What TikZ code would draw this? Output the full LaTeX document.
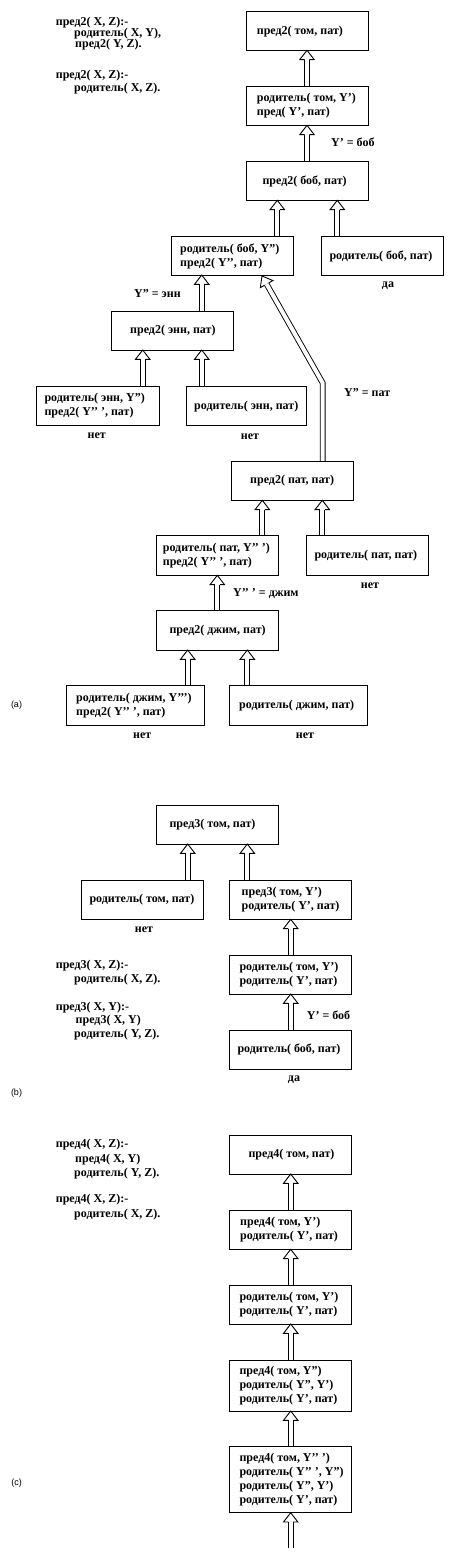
\documentclass[tikz,border=0pt]{standalone}
\usepackage{fontspec}
\setmainfont{Liberation Serif}
\newfontfamily\lblfont{Liberation Sans}
\usetikzlibrary{calc}
\pgfdeclarelayer{arrowlayer}
\pgfsetlayers{arrowlayer,main}
\tikzset{
  box/.style={draw, line width=0.9pt, inner sep=0pt, outer sep=0pt, anchor=north west},
  txt/.style={font=\fontsize{12}{14}\selectfont\bfseries, inner sep=0pt, anchor=west, align=left},
  ctxt/.style={font=\fontsize{12}{14}\selectfont\bfseries, inner sep=0pt},
  tagtxt/.style={font=\lblfont\fontsize{9}{11}\selectfont, inner sep=0pt},
  shaft/.style={line width=0.9pt, double=white, double distance=4pt, line join=miter},
  headline/.style={draw, line width=0.9pt, line join=miter},
}
\newcommand\abox[5]{\node[box, minimum width={(#4-#2)*1pt}, minimum height={(#5-#3)*1pt}] (#1) at (#2,#3) {};}
\newcommand\ahead[2]{%
  \draw[headline] let \p1=(#1), \p2=(#2), \n1={atan2(\y2-\y1,\x2-\x1)} in
    ($(\p2)!9.3pt!(\p1)+({\n1+90}:2.45pt)$) -- ($(\p2)!9.3pt!(\p1)+({\n1+90}:7.2pt)$) -- (\p2)
    -- ($(\p2)!9.3pt!(\p1)+({\n1-90}:7.2pt)$) -- ($(\p2)!9.3pt!(\p1)+({\n1-90}:2.45pt)$);}
\newcommand\harrow[2]{%
  \draw[shaft] let \p1=(#1), \p2=(#2) in (\p1) -- ($(\p2)!9.3pt!(\p1)$);
  \ahead{#1}{#2}}
\begin{document}
\begin{tikzpicture}[x=1pt,y=-1pt]
\useasboundingbox (0,0) rectangle (456,1558);
% ---------- (a) boxes
\abox{A1}{246}{11}{368.7}{50.3}
\abox{A2}{246}{86}{368.7}{125.3}
\abox{A3}{246}{161.3}{368.7}{200.3}
\abox{A4}{171}{236}{293.3}{275}
\abox{A5}{321}{236}{443.3}{275}
\abox{A6}{111}{311}{233.3}{350}
\abox{A7}{36}{386}{159.3}{425.3}
\abox{A8}{186}{386}{306}{425.3}
\abox{A9}{231}{461}{353.3}{500.3}
\abox{A10}{156}{535.3}{278.3}{575.3}
\abox{A11}{306}{535.3}{428.3}{575.3}
\abox{A12}{156}{610.3}{278.3}{650}
\abox{A13}{66.3}{685.3}{204.3}{725.3}
\abox{A14}{229.3}{685.3}{367.3}{725.3}
% ---------- (b) boxes
\abox{B1}{156.3}{805.3}{278.3}{844}
\abox{B2}{81.3}{880}{203.3}{919.3}
\abox{B3}{229.3}{880}{351.3}{919.3}
\abox{B4}{229.3}{955}{351.3}{994}
\abox{B5}{229.3}{1030}{351.3}{1069.3}
% ---------- (c) boxes
\abox{C1}{229.3}{1135.3}{351.3}{1174}
\abox{C2}{229.3}{1210}{351.3}{1249.3}
\abox{C3}{229.3}{1285}{351.3}{1324}
\abox{C4}{229.3}{1360}{351.3}{1411}
\abox{C5}{229.3}{1446.7}{351.3}{1512.7}
\coordinate (bend) at (322.7,383);
\coordinate (tail) at (290.7,1548.3);
% ---------- box texts (a)
\node[txt] (tA1) at (256.7,31.5) {пред2( том, пат)};
\node[txt] (tA2) at (256.7,106) {родитель( том, Y’)\\пред( Y’, пат)};
\node[txt] (tA3) at (262.3,181.5) {пред2( боб, пат)};
\node[txt] (tA4) at (180,256) {родитель( боб, Y”)\\пред2( Y’’, пат)};
\node[txt] (tA5) at (329.3,256.5) {родитель( боб, пат)};
\node[txt] (tA6) at (130,331) {пред2( энн, пат)};
\node[txt] (tA7) at (44.3,406) {родитель( энн, Y”)\\пред2( Y’’ ’, пат)};
\node[txt] (tA8) at (194,406.5) {родитель( энн, пат)};
\node[txt] (tA9) at (250,481) {пред2( пат, пат)};
\node[txt] (tA10) at (162.7,555.5) {родитель( пат, Y’’ ’)\\пред2( Y’’ ’, пат)};
\node[txt] (tA11) at (314.3,556) {родитель( пат, пат)};
\node[txt] (tA12) at (169.3,630.5) {пред2( джим, пат)};
\node[txt] (tA13) at (76,705.5) {родитель( джим, Y’’’)\\пред2( Y’’ ’, пат)};
\node[txt] (tA14) at (239,706) {родитель( джим, пат)};
% ---------- box texts (b)
\node[txt] (tB1) at (169.3,824.5) {пред3( том, пат)};
\node[txt] (tB2) at (89.3,900) {родитель( том, пат)};
\node[txt] (tB3) at (241.5,900) {пред3( том, Y’)\\родитель( Y’, пат)};
\node[txt] (tB4) at (239.3,975) {родитель( том, Y’)\\родитель( Y’, пат)};
\node[txt] (tB5) at (237.3,1049.5) {родитель( боб, пат)};
% ---------- box texts (c)
\node[txt] (tC1) at (248.3,1154.5) {пред4( том, пат)};
\node[txt] (tC2) at (240,1230) {пред4( том, Y’)\\родитель( Y’, пат)};
\node[txt] (tC3) at (239.3,1305) {родитель( том, Y’)\\родитель( Y’, пат)};
\node[txt] (tC4) at (239.3,1386) {пред4( том, Y”)\\родитель( Y”, Y’)\\родитель( Y’, пат)};
\node[txt] (tC5) at (239.3,1480) {пред4( том, Y’’ ’)\\родитель( Y’’ ’, Y”)\\родитель( Y”, Y’)\\родитель( Y’, пат)};
% ---------- labels
\node[txt] (l1) at (331,142.7) {Y’ = боб};
\node[ctxt] (l2) at (388,286) {да};
\node[txt] (l3) at (134,294) {Y” = энн};
\node[txt] (l4) at (344,392.7) {Y” = пат};
\node[ctxt] (l5) at (96.7,436) {нет};
\node[ctxt] (l6) at (250,437) {нет};
\node[ctxt] (l7) at (370,586) {нет};
\node[txt] (l8) at (233,594) {Y’’ ’ = джим};
\node[ctxt] (l9) at (142.3,735.3) {нет};
\node[ctxt] (l10) at (305,735.3) {нет};
\node[ctxt] (l11) at (144,930) {нет};
\node[txt] (l12) at (306.7,1015) {Y’ = боб};
\node[ctxt] (l13) at (294,1080) {да};
\node[tagtxt] (ta) at (16.5,705) {(a)};
\node[tagtxt] (tb) at (16.5,1093.3) {(b)};
\node[tagtxt] (tc) at (16.5,1483.3) {(c)};
% ---------- program texts
\node[txt] (pa1) at (55.7,22.7) {пред2( X, Z):-};
\node[txt] (pa2) at (74,33.8) {родитель( X, Y),};
\node[txt] (pa3) at (75,44.5) {пред2( Y, Z).};
\node[txt] (pa4) at (55.7,76) {пред2( X, Z):-};
\node[txt] (pa5) at (74,89) {родитель( X, Z).};
\node[txt] (pb1) at (55.7,965.7) {пред3( X, Z):-};
\node[txt] (pb2) at (74,980) {родитель( X, Z).};
\node[txt] (pb3) at (55.7,1007.3) {пред3( X, Y):-};
\node[txt] (pb4) at (75.5,1020.5) {пред3( X, Y)};
\node[txt] (pb5) at (74,1035) {родитель( Y, Z).};
\node[txt] (pc1) at (55.7,1145) {пред4( X, Z):-};
\node[txt] (pc2) at (75,1159.3) {пред4( X, Y)};
\node[txt] (pc3) at (74,1173.3) {родитель( Y, Z).};
\node[txt] (pc4) at (55.7,1200) {пред4( X, Z):-};
\node[txt] (pc5) at (74,1214.3) {родитель( X, Z).};
% ---------- arrows
\begin{pgfonlayer}{arrowlayer}
\harrow{[xshift=61pt]A2.north west}{[xshift=61pt]A1.south west}
\harrow{[xshift=61pt]A3.north west}{[xshift=61pt]A2.south west}
\harrow{[xshift=106.3pt]A4.north west}{[xshift=31.3pt]A3.south west}
\harrow{[xshift=16.3pt]A5.north west}{[xshift=91.3pt]A3.south west}
\harrow{[xshift=90.7pt]A6.north west}{[xshift=30.7pt]A4.south west}
\harrow{[xshift=106.7pt]A7.north west}{[xshift=31.7pt]A6.south west}
\harrow{[xshift=15.7pt]A8.north west}{[xshift=90.7pt]A6.south west}
\coordinate (A4tip) at ([xshift=91pt,yshift=-1pt]A4.south west);
\draw[shaft] ([xshift=91.7pt]A9.north west) -- (bend) -- ($(A4tip)!9.3pt!(bend)$);
\ahead{bend}{A4tip}
\harrow{[xshift=106.3pt]A10.north west}{[xshift=31.3pt]A9.south west}
\harrow{[xshift=16.3pt]A11.north west}{[xshift=91.3pt]A9.south west}
\harrow{[xshift=61.3pt]A12.north west}{[xshift=61.3pt]A10.south west}
\harrow{[xshift=121.4pt]A13.north west}{[xshift=31.7pt]A12.south west}
\harrow{[xshift=18pt]A14.north west}{[xshift=91.3pt]A12.south west}
\harrow{[xshift=106.4pt]B2.north west}{[xshift=31.4pt]B1.south west}
\harrow{[xshift=18pt]B3.north west}{[xshift=91pt]B1.south west}
\harrow{[xshift=61.4pt]B4.north west}{[xshift=61.4pt]B3.south west}
\harrow{[xshift=61.4pt]B5.north west}{[xshift=61.4pt]B4.south west}
\harrow{[xshift=61.4pt]C2.north west}{[xshift=61.4pt]C1.south west}
\harrow{[xshift=61.4pt]C3.north west}{[xshift=61.4pt]C2.south west}
\harrow{[xshift=61.4pt]C4.north west}{[xshift=61.4pt]C3.south west}
\harrow{[xshift=61.4pt]C5.north west}{[xshift=61.4pt]C4.south west}
\harrow{tail}{[xshift=61.4pt]C5.south west}
\end{pgfonlayer}
\end{tikzpicture}
\end{document}
